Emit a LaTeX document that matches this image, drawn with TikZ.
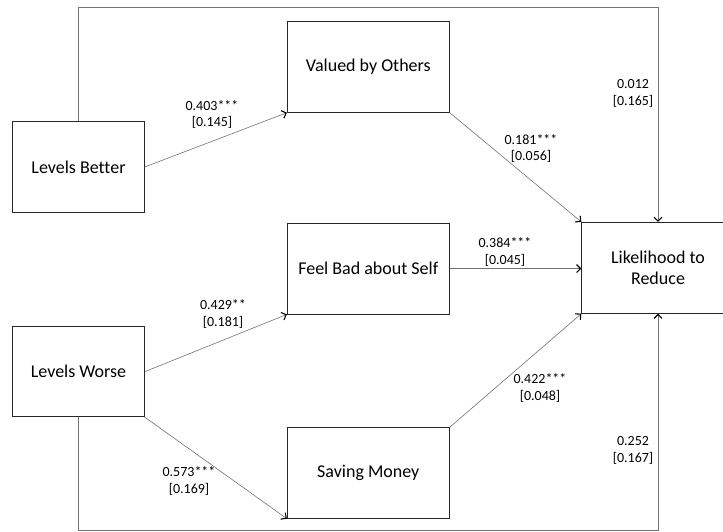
\documentclass[tikz,border=0pt]{standalone}
\usepackage{fontspec}
\setmainfont[Ligatures=NoCommon]{Carlito}
\usetikzlibrary{arrows.meta}
\begin{document}
\begin{tikzpicture}[x=1pt,y=-1pt,
  box/.style={draw=black!85, line width=0.8pt, inner sep=0pt, font=\fontsize{18}{21}\selectfont, align=center},
  conn/.style={draw=black!55, line width=0.6pt, -{Straight Barb[color=black, length=4pt, width=8pt, line width=1.1pt]}},
  lbl/.style={font=\fontsize{14}{16.5}\selectfont, align=center, inner sep=0pt}]
\useasboundingbox (0,0) rectangle (723,532);
\clip (0,0) rectangle (723,532);
\node[box, minimum width=131.6pt, minimum height=90.6pt] (lb) at (78.5,167) {Levels Better};
\node[box, minimum width=131.6pt, minimum height=90pt] (lw) at (78.5,371.7) {Levels Worse};
\node[box, minimum width=162pt, minimum height=90.6pt] (vo) at (368.3,67) {Valued by Others};
\node[box, minimum width=162pt, minimum height=91pt] (fb) at (368.3,268.5) {Feel Bad about Self};
\node[box, minimum width=162pt, minimum height=90.6pt] (sm) at (368.3,473) {Saving Money};
\node[box, minimum width=152.6pt, minimum height=91pt] (lr) at (658,267.8) {Likelihood to\\Reduce};
\coordinate (topy) at (0,7.3);
\coordinate (boty) at (0,530);
\draw[conn] (lb.east) -- (vo.south west);
\draw[conn] (lw.east) -- (fb.south west);
\draw[conn] (lw.south east) -- (sm.south west);
\draw[conn] (vo.south east) -- (lr.north west);
\draw[conn] (fb.east) -- (fb.east -| lr.west);
\draw[conn] (sm.north east) -- (lr.south west);
\draw[conn] (lb.north) -- (lb.north |- topy) -| (lr.north);
\draw[conn] (lw.south) -- (lw.south |- boty) -| (lr.south);
\node[lbl] (l1) at (212,114.5) {0.403***\\{[0.145]}};
\node[lbl] (l2) at (633,93.5) {0.012\\{[0.165]}};
\node[lbl] (l3) at (531,148.7) {0.181***\\{[0.056]}};
\node[lbl] (l4) at (505,252) {0.384***\\{[0.045]}};
\node[lbl] (l5) at (223,314) {0.429**\\{[0.181]}};
\node[lbl] (l6) at (189,481) {0.573***\\{[0.169]}};
\node[lbl] (l7) at (540,388) {0.422***\\{[0.048]}};
\node[lbl] (l8) at (633,450.5) {0.252\\{[0.167]}};
\end{tikzpicture}
\end{document}
